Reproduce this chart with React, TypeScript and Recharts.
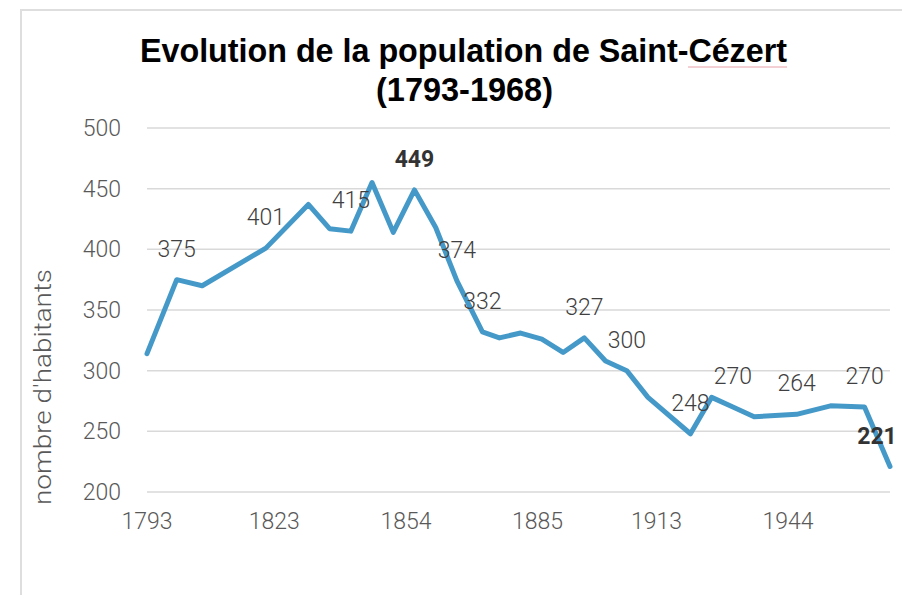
import { CartesianGrid, LabelList, Line, LineChart, XAxis, YAxis } from "recharts";

const years = [
  1793, 1800, 1806, 1821, 1831, 1836, 1841, 1846, 1851, 1856, 1861, 1866, 1872, 1876, 1881,
  1886, 1891, 1896, 1901, 1906, 1911, 1921, 1926, 1931, 1936, 1946, 1954, 1962, 1968,
];
const population = [
  314, 375, 370, 401, 437, 417, 415, 455, 414, 449, 418, 374, 332, 327, 331, 326, 315, 327,
  308, 300, 278, 248, 278, 270, 262, 264, 271, 270, 221,
];
const labelledYears = [1800, 1821, 1841, 1856, 1866, 1872, 1896, 1906, 1921, 1931, 1946, 1962, 1968];
const boldYears = [1856, 1968];
const xTicks = [1793, 1823, 1854, 1885, 1913, 1944];
const yTicks = [200, 250, 300, 350, 400, 450, 500];

const data = years.map((year, i) => ({ year, value: population[i] }));

const tickStyle = { fill: "#595959", fontSize: 23, fontFamily: "Roboto", fontWeight: 300 };

function PointLabel(props: any) {
  const { x, y, value, index } = props;
  const year = years[index];
  if (!labelledYears.includes(year)) return null;
  const bold = boldYears.includes(year);
  const last = index === years.length - 1;
  return (
    <text
      x={last ? x - 13 : x}
      y={y - 23}
      textAnchor="middle"
      fill={bold ? "#333333" : "#404040"}
      fontFamily="Roboto"
      fontWeight={bold ? 700 : 300}
      fontSize={23}
    >
      {value}
    </text>
  );
}

export default function App() {
  return (
    <div
      style={{
        position: "absolute",
        left: 0,
        top: 0,
        width: 902,
        height: 595,
        background: "#ffffff",
        overflow: "hidden",
      }}
    >
      <div
        style={{
          position: "absolute",
          left: 20,
          top: 9,
          width: 900,
          height: 600,
          border: "2px solid #dedede",
          boxSizing: "border-box",
        }}
      />
      <svg width={902} height={120} style={{ position: "absolute", left: 0, top: 0 }}>
        <g fontFamily="'Liberation Sans', Arial, sans-serif" fontWeight={700} fontSize={34} fill="#000000">
          <text x={140} y={62} textLength={647} lengthAdjust="spacingAndGlyphs">
            Evolution de la population de Saint-Cézert
          </text>
          <text x={376} y={101} textLength={177} lengthAdjust="spacingAndGlyphs">
            (1793-1968)
          </text>
        </g>
        <line x1={688} y1={67} x2={787} y2={67} stroke="#e8a0a8" strokeWidth={1} />
      </svg>
      <LineChart
        width={902}
        height={595}
        data={data}
        margin={{ top: 128, right: 12, bottom: 73, left: 0 }}
        style={{ position: "absolute", left: 0, top: 0 }}
      >
        <CartesianGrid vertical={false} stroke="#d9d9d9" strokeWidth={1.5} />
        <XAxis
          dataKey="year"
          type="number"
          domain={[1793, 1968]}
          ticks={xTicks}
          axisLine={false}
          tickLine={false}
          tickSize={0}
          tickMargin={21}
          height={30}
          tick={tickStyle}
          interval={0}
        />
        <YAxis
          domain={[200, 500]}
          ticks={yTicks}
          axisLine={false}
          tickLine={false}
          tickSize={0}
          tickMargin={26}
          width={147}
          tick={tickStyle}
          label={{
            content: ({ viewBox }: any) => {
              const cx = viewBox.x + 43;
              const cy = viewBox.y + viewBox.height / 2 + 77;
              return (
                <text
                  x={cx}
                  y={cy}
                  transform={`rotate(-90 ${cx} ${cy})`}
                  textAnchor="middle"
                  dominantBaseline="central"
                  fill="#595959"
                  fontFamily="Roboto"
                  fontWeight={300}
                  fontSize={23}
                  textLength={236}
                  lengthAdjust="spacingAndGlyphs"
                >
                  nombre d'habitants
                </text>
              );
            },
          }}
        />
        <Line
          type="linear"
          dataKey="value"
          stroke="#4599c9"
          strokeWidth={5}
          strokeLinejoin="round"
          strokeLinecap="round"
          dot={false}
          activeDot={false}
          isAnimationActive={false}
        >
          <LabelList dataKey="value" content={PointLabel} />
        </Line>
      </LineChart>
    </div>
  );
}
